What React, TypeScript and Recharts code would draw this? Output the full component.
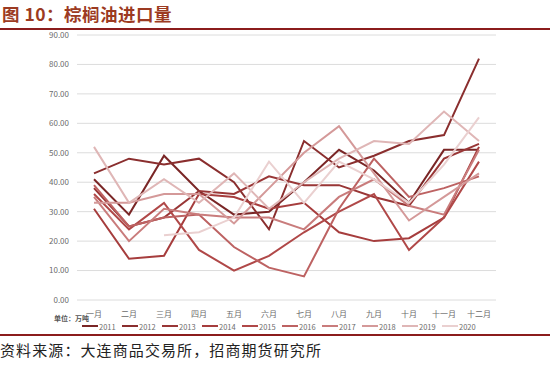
import { LineChart, Line, XAxis, YAxis, CartesianGrid } from "recharts";

const months = ["一月", "二月", "三月", "四月", "五月", "六月", "七月", "八月", "九月", "十月", "十一月", "十二月"];
const years = ["2011", "2012", "2013", "2014", "2015", "2016", "2017", "2018", "2019", "2020"];
const yTicks = [0, 10, 20, 30, 40, 50, 60, 70, 80, 90];

// 单位：万吨
const v2011 = [41, 29, 49, 37, 29, 30, 40, 51, 44, 33, 51, 51];
const v2012 = [43, 48, 46, 48, 40, 24, 54, 45, 49, 54, 56, 82];
const v2013 = [38, 25, 28, 37, 36, 42, 39, 39, 35, 32, 48, 53];
const v2014 = [31, 14, 15, 36, 35, 31, 33, 23, 20, 21, 28, 52];
const v2015 = [36, 24, 33, 17, 10, 15, 23, 30, 36, 17, 28, 47];
const v2016 = [39, 25, 28, 29, 18, 11, 8, 31, 48, 35, 38, 42];
const v2017 = [35, 20, 31, 29, 28, 28, 24, 35, 41, 32, 29, 51];
const v2018 = [33, 33, 36, 36, 26, 38, 50, 59, 43, 27, 35, 43];
const v2019 = [52, 33, 41, 33, 43, 31, 40, 48, 54, 53, 64, 54];
const v2020 = [null, null, 22, 23, 28, 47, 33, 47, 41, 33, 46, 62];

const seriesValues = [v2011, v2012, v2013, v2014, v2015, v2016, v2017, v2018, v2019, v2020];

const COLORS = [
  "#7a2626",
  "#8a2e2e",
  "#993636",
  "#a63d3d",
  "#b04848",
  "#bd6262",
  "#c97c7c",
  "#d49999",
  "#dfb6b6",
  "#ead0d0",
];

const data = months.map((m, i) => {
  const row: { [key: string]: string | number | null } = { name: m };
  years.forEach((y, j) => {
    row[y] = seriesValues[j][i];
  });
  return row;
});

const CJK = '"Noto Sans CJK SC", "Noto Sans", sans-serif';

export default function App() {
  return (
    <div
      style={{
        position: "absolute",
        left: 0,
        top: 0,
        width: 550,
        height: 377,
        background: "#fff",
        overflow: "hidden",
        fontFamily: CJK,
      }}
    >
      <div
        style={{
          position: "absolute",
          left: 2,
          top: 1,
          fontSize: 17.5,
          fontWeight: 700,
          letterSpacing: 0.5,
          color: "#9c3a22",
          lineHeight: "26px",
          whiteSpace: "nowrap",
        }}
      >
        图 10：棕榈油进口量
      </div>
      <div style={{ position: "absolute", left: 0, top: 28, width: 550, height: 2, background: "#8b1c1c" }} />

      <div style={{ position: "absolute", left: 0, top: 0 }}>
        <LineChart
          width={550}
          height={377}
          data={data}
          margin={{ top: 35, right: 54, left: 0, bottom: 57 }}
        >
          <CartesianGrid vertical={false} stroke="#dcdcdc" strokeWidth={1} />
          <XAxis
            dataKey="name"
            axisLine={false}
            tickLine={false}
            tickMargin={5}
            height={20}
            interval={0}
            padding={{ left: 17, right: 17 }}
            tick={{ fill: "#6b6b6b", fontSize: 8, fontFamily: CJK }}
          />
          <YAxis
            width={77}
            domain={[0, 90]}
            ticks={yTicks}
            axisLine={false}
            tickLine={false}
            tickFormatter={(v: number) => v.toFixed(2)}
            tick={{ fill: "#6b6b6b", fontSize: 8, fontFamily: CJK }}
          />
          {years.map((y, idx) => (
            <Line
              key={y}
              type="linear"
              dataKey={y}
              stroke={COLORS[idx]}
              strokeWidth={2}
              dot={false}
              connectNulls={false}
              isAnimationActive={false}
            />
          ))}
        </LineChart>
      </div>

      <div
        style={{
          position: "absolute",
          left: 54,
          top: 314,
          fontSize: 7,
          lineHeight: "8px",
          fontWeight: 700,
          color: "#555",
          whiteSpace: "nowrap",
        }}
      >
        单位：万吨
      </div>
      <div style={{ position: "absolute", left: 82, top: 321, height: 10 }}>
        {years.map((y, idx) => (
          <div
            key={y}
            style={{
              position: "absolute",
              left: idx * 40,
              top: 0,
              width: 40,
              height: 10,
              display: "flex",
              alignItems: "center",
              whiteSpace: "nowrap",
            }}
          >
            <span style={{ display: "inline-block", width: 16, height: 2, background: COLORS[idx] }} />
            <span style={{ fontSize: 7.5, color: "#6b6b6b", marginLeft: 1 }}>{y}</span>
          </div>
        ))}
      </div>

      <div style={{ position: "absolute", left: 0, top: 334, width: 550, height: 2, background: "#8b1c1c" }} />
      <div
        style={{
          position: "absolute",
          left: 0,
          top: 340,
          fontSize: 15,
          letterSpacing: 1.1,
          color: "#222",
          whiteSpace: "nowrap",
          lineHeight: "20px",
        }}
      >
        资料来源：大连商品交易所，招商期货研究所
      </div>
    </div>
  );
}
